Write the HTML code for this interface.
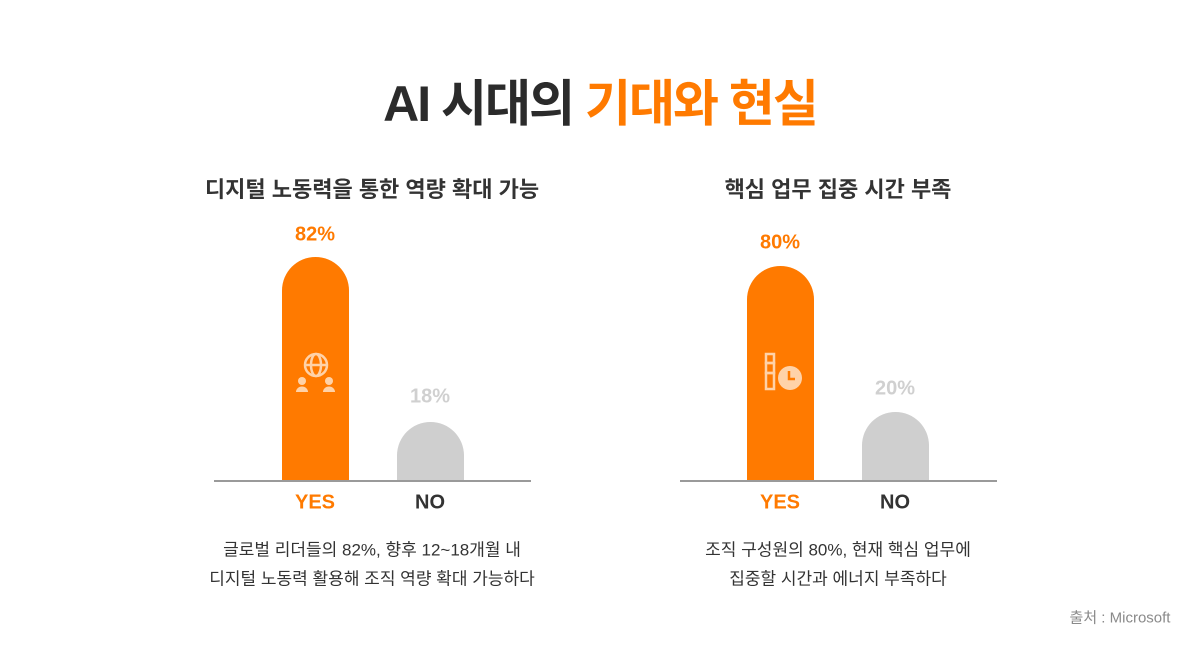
<!DOCTYPE html>
<html><head><style>
body{margin:0;width:1200px;height:650px;background:#fff;position:relative;font-family:"Liberation Sans","Noto Sans CJK KR",sans-serif;overflow:hidden}
.t{position:absolute;white-space:nowrap;transform:translate(-50%,-50%);}
.b{position:absolute;border-radius:34px 34px 0 0}
.o{background:#ff7a00}.g{background:#cfcfcf}
.ln{position:absolute;height:2px;background:#9a9a9a}
</style></head><body>
<div class="t" style="left:600px;top:100px;font-size:50px;font-weight:bold;color:#2b2b2b;letter-spacing:-2px">AI 시대의 <span style="color:#ff7a00">기대와 현실</span></div>
<div class="t" style="left:372px;top:188px;font-size:22px;font-weight:bold;color:#333">디지털 노동력을 통한 역량 확대 가능</div>
<div class="t" style="left:838px;top:188px;font-size:22px;font-weight:bold;color:#333">핵심 업무 집중 시간 부족</div>

<div class="t" style="left:315px;top:235px;font-size:20px;font-weight:bold;color:#ff7a00">82%</div>
<div class="b o" style="left:282px;top:257px;width:67px;height:224px"></div>
<div class="t" style="left:430px;top:397px;font-size:20px;font-weight:bold;color:#d0d0d0">18%</div>
<div class="b g" style="left:397px;top:422px;width:67px;height:59px"></div>
<div class="ln" style="left:214px;top:480px;width:317px"></div>
<svg style="position:absolute;left:295px;top:351px" width="42" height="42" viewBox="0 0 42 42" fill="none" stroke="#ffd2a8" stroke-width="2.5"><circle cx="21" cy="14" r="11"/><ellipse cx="21" cy="14" rx="5" ry="11"/><line x1="10" y1="14" x2="32" y2="14"/><g fill="#ffd2a8" stroke="none"><circle cx="7" cy="30" r="4"/><path d="M1 41a6 5.5 0 0 1 12 0z"/><circle cx="34" cy="30" r="4"/><path d="M28 41a6 5.5 0 0 1 12 0z"/></g></svg>
<div class="t" style="left:315px;top:503px;font-size:20px;font-weight:bold;color:#ff7a00">YES</div>
<div class="t" style="left:430px;top:503px;font-size:20px;font-weight:bold;color:#333">NO</div>
<div class="t" style="left:372px;top:548px;font-size:17px;color:#333">글로벌 리더들의 82%, 향후 12~18개월 내</div>
<div class="t" style="left:372px;top:577px;font-size:17px;color:#333">디지털 노동력 활용해 조직 역량 확대 가능하다</div>

<div class="t" style="left:780px;top:243px;font-size:20px;font-weight:bold;color:#ff7a00">80%</div>
<div class="b o" style="left:747px;top:266px;width:67px;height:215px"></div>
<div class="t" style="left:895px;top:389px;font-size:20px;font-weight:bold;color:#d0d0d0">20%</div>
<div class="b g" style="left:862px;top:412px;width:67px;height:69px"></div>
<div class="ln" style="left:680px;top:480px;width:317px"></div>
<svg style="position:absolute;left:762px;top:352px" width="42" height="42" viewBox="0 0 42 42" fill="none" stroke="#ffd2a8" stroke-width="2.5"><rect x="4" y="2" width="8" height="9"/><rect x="4" y="11" width="8" height="10"/><rect x="4" y="21" width="8" height="16"/><circle cx="28" cy="26" r="12" fill="#ffd2a8" stroke="none"/><path d="M27 19v8h6" stroke="#ff7a00"/></svg>
<div class="t" style="left:780px;top:503px;font-size:20px;font-weight:bold;color:#ff7a00">YES</div>
<div class="t" style="left:895px;top:503px;font-size:20px;font-weight:bold;color:#333">NO</div>
<div class="t" style="left:838px;top:548px;font-size:17px;color:#333">조직 구성원의 80%, 현재 핵심 업무에</div>
<div class="t" style="left:838px;top:577px;font-size:17px;color:#333">집중할 시간과 에너지 부족하다</div>

<div class="t" style="left:1120px;top:617px;font-size:15px;color:#8a8a8a">출처 : Microsoft</div>
</body></html>
